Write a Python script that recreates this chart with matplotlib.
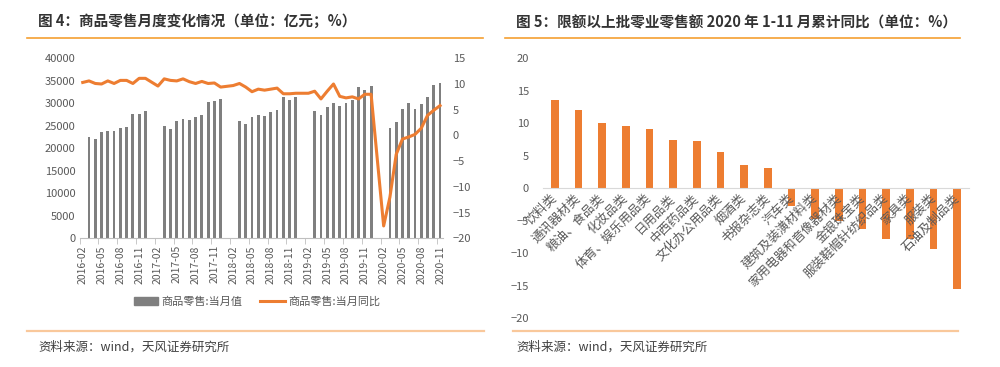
import matplotlib
matplotlib.use("Agg")
import matplotlib.pyplot as plt
import numpy as np
import pandas as pd
from matplotlib.patches import Patch
from matplotlib.lines import Line2D

plt.rcParams['font.family'] = ['Noto Sans CJK SC', 'DejaVu Sans']

nan = np.nan

# left chart: monthly retail of goods, 2016-02 .. 2020-11
months = [p.strftime('%Y-%m') for p in pd.period_range('2016-02', '2020-11', freq='M')]

retail_value = [
    nan, 22440, 22000, 23630, 23780, 23780, 24440, 24810, 27630, 27630, 28300,
    nan, nan, 24890, 24300, 26150, 26590, 26220, 26890, 27480, 30300, 30440, 31040,
    nan, nan, 26070, 25480, 26960, 27410, 27260, 28070, 28590, 31410, 30740, 31410,
    nan, nan, 28300, 27330, 29260, 30150, 29410, 30000, 30740, 33700, 32960, 33850,
    nan, nan, 24590, 25850, 28810, 30150, 28810, 29850, 31480, 34150, 34440,
]

retail_yoy = [
    10.3, 10.6, 10.1, 10.0, 10.6, 10.1, 10.7, 10.7, 10.1, 11.1, 11.1,
    nan, 9.6, 11.0, 10.7, 10.6, 11.0, 10.45, 10.1, 10.5, 10.1, 10.2, 9.4,
    nan, 9.7, 10.1, 9.4, 8.5, 9.0, 8.8, 9.0, 9.2, 8.1, 8.1, 8.2,
    nan, 8.2, 8.6, 7.1, 8.6, 10.0, 7.6, 7.3, 7.5, 7.1, 8.0, 8.0,
    nan, -17.6, -12.0, -3.7, -0.7, -0.3, 0.2, 1.4, 3.9, 4.9, 5.8,
]

# right chart: cumulative yoy Jan-Nov 2020 by category
categories = ['饮料类', '通讯器材类', '粮油、食品类', '化妆品类', '体育、娱乐用品类',
              '日用品类', '中西药品类', '文化办公用品类', '烟酒类', '书报杂志类',
              '汽车类', '建筑及装潢材料类', '家用电器和音像器材类', '金银珠宝类',
              '服装鞋帽针纺织品类', '家具类', '服装类', '石油及制品类']
cum_yoy = [13.6, 12.0, 10.05, 9.5, 9.1, 7.4, 7.3, 5.5, 3.5, 3.1,
           -2.7, -4.7, -5.0, -6.3, -7.8, -7.8, -9.4, -15.5]

GRAY = '#7F7F7F'
ORANGE = '#ED7D31'
TXT = '#595959'

fig = plt.figure(figsize=(10, 3.67), dpi=100)

# ---------- left chart ----------
ax1 = fig.add_axes([0.0796, 0.3507, 0.3636, 0.4905])
x = np.arange(len(months))
ax1.bar(x, retail_value, width=0.45, color=GRAY)
ax1.set_xlim(-0.5, len(months) - 0.5)
ax1.set_ylim(0, 40000)
ax1.set_yticks(range(0, 40001, 5000))
for s in ['top', 'left', 'right']:
    ax1.spines[s].set_visible(False)
ax1.spines['bottom'].set_color('#BFBFBF')
ax1.set_xticks(x[::3])
ax1.set_xticklabels(months[::3], rotation=90, fontsize=7.5, color=TXT)
ax1.set_xticks(x[::3] - 0.5, minor=True)
ax1.tick_params(axis='x', which='major', length=0, pad=5)
ax1.tick_params(axis='x', which='minor', length=4, color='#BFBFBF')
ax1.tick_params(axis='y', length=0, labelsize=8, labelcolor=TXT, pad=3)

ax2 = ax1.twinx()
yoy = np.array(retail_yoy)
ok = ~np.isnan(yoy)
ax2.plot(x[ok], yoy[ok], color=ORANGE, lw=2.2)
ax2.set_ylim(-20, 15)
ax2.set_yticks(range(-20, 16, 5))
for s in ax2.spines.values():
    s.set_visible(False)
ax2.tick_params(axis='y', length=0, labelsize=8, labelcolor=TXT, pad=7)

fig.legend(handles=[Patch(color=GRAY, label='商品零售:当月值'),
                    Line2D([], [], color=ORANGE, lw=2.2, label='商品零售:当月同比')],
           loc='center', bbox_to_anchor=(0.257, 0.177), ncol=2, frameon=False,
           fontsize=8, handlelength=2.2, handletextpad=0.3, columnspacing=1.6,
           labelcolor=TXT)

# ---------- right chart ----------
ax3 = fig.add_axes([0.543, 0.1335, 0.426, 0.7084])
xc = np.arange(len(categories))
ax3.bar(xc, cum_yoy, width=0.33, color=ORANGE)
ax3.set_xlim(-0.5, len(categories) - 0.5)
ax3.set_ylim(-20, 20)
ax3.set_yticks(range(-20, 21, 5))
for s in ['top', 'left', 'right']:
    ax3.spines[s].set_visible(False)
ax3.spines['bottom'].set_position(('data', 0))
ax3.spines['bottom'].set_color('#D9D9D9')
ax3.set_xticks(xc)
ax3.set_xticklabels(categories, rotation=45, ha='right', va='center',
                    rotation_mode='anchor', fontsize=9, color=TXT)
ax3.tick_params(axis='x', length=0, pad=6)
ax3.tick_params(axis='y', length=0, labelsize=8, labelcolor=TXT, pad=10)

# ---------- titles, rules, sources ----------
fig.text(0.038, 0.94, '图 4：商品零售月度变化情况（单位：亿元；%）',
         fontsize=10.5, fontweight='bold', color='#333333', va='center')
fig.text(0.516, 0.94, '图 5：限额以上批零业零售额 2020 年 1-11 月累计同比（单位：%）',
         fontsize=10.5, fontweight='bold', color='#333333', va='center')

for x0, x1 in [(0.027, 0.483), (0.505, 0.960)]:
    fig.add_artist(Line2D([x0, x1], [0.8965, 0.8965], transform=fig.transFigure,
                          color='#F5A031', lw=1.2))
for x0, x1 in [(0.027, 0.484), (0.513, 0.958)]:
    fig.add_artist(Line2D([x0, x1], [0.098, 0.098], transform=fig.transFigure,
                          color='#F9C89B', lw=1.6))

fig.text(0.038, 0.0545, '资料来源：wind，天风证券研究所', fontsize=9, color='#404040', va='center')
fig.text(0.516, 0.0545, '资料来源：wind，天风证券研究所', fontsize=9, color='#404040', va='center')

fig.savefig('out.png', dpi=100)
